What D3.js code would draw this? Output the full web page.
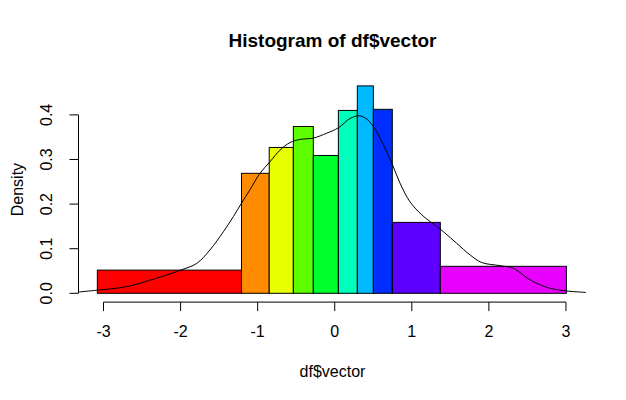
<!DOCTYPE html>
<html>
<head>
<meta charset="utf-8">
<script src="https://cdn.jsdelivr.net/npm/d3@7"></script>
<style>
  body { margin: 0; background: #fff; }
  svg { display: block; font-family: "Liberation Sans", Arial, sans-serif; }
</style>
</head>
<body>
<svg id="chart" width="626" height="400"></svg>
<script>
// histogram bins (breaks) and densities
const breaks = [-3.08, -1.21, -0.85, -0.537, -0.278, 0.047, 0.293, 0.501, 0.747, 1.37, 3.005];
const densities = [0.052, 0.269, 0.327, 0.374, 0.309, 0.410, 0.465, 0.4125, 0.159, 0.0605];
const barColors = ['#FF0000', '#FF8B00', '#E8FF00', '#5DFF00', '#00FF2E',
                   '#00FFBA', '#00B9FF', '#002EFF', '#5D00FF', '#E800FF'];

// kernel density curve
const densX = [-3.32, -3.08, -2.7, -2.31, -2.0, -1.79, -1.62, -1.445, -1.315, -1.21, -1.1, -0.97,
               -0.84, -0.71, -0.58, -0.45, -0.278, -0.104, 0.047, 0.199, 0.32, 0.42, 0.5, 0.588,
               0.74, 0.847, 0.977, 1.129, 1.237, 1.41, 1.583, 1.756, 1.907, 2.145, 2.318, 2.535,
               2.75, 2.966, 3.26];
const densY = [0.003, 0.007, 0.015, 0.034, 0.052, 0.067, 0.097, 0.138, 0.172, 0.202, 0.232, 0.269,
               0.295, 0.321, 0.338, 0.345, 0.348, 0.359, 0.371, 0.392, 0.398, 0.39, 0.374, 0.348,
               0.292, 0.247, 0.205, 0.176, 0.161, 0.138, 0.112, 0.086, 0.069, 0.062, 0.056, 0.030,
               0.0135, 0.006, 0.002];

const xTicks = [-3, -2, -1, 0, 1, 2, 3];
const yTicks = [0, 0.1, 0.2, 0.3, 0.4];

const svg = d3.select('#chart');
const plot = { left: 79, right: 586, top: 77.6, bottom: 301.6 };

const x = d3.scaleLinear().domain([-3.318, 3.26]).range([plot.left, plot.right]);
const y = d3.scaleLinear().domain([-0.0186, 0.4836]).range([plot.bottom, plot.top]);

svg.append('defs').append('clipPath').attr('id', 'clip')
  .append('rect')
  .attr('x', plot.left).attr('y', plot.top)
  .attr('width', plot.right - plot.left).attr('height', plot.bottom - plot.top);

// bars
svg.append('g').selectAll('rect')
  .data(densities)
  .join('rect')
  .attr('x', (d, i) => x(breaks[i]))
  .attr('width', (d, i) => x(breaks[i + 1]) - x(breaks[i]))
  .attr('y', d => y(d))
  .attr('height', d => y(0) - y(d))
  .attr('fill', (d, i) => barColors[i])
  .attr('stroke', '#000')
  .attr('stroke-width', 1);

// density line
const line = d3.line()
  .x(i => x(densX[i]))
  .y(i => y(densY[i]))
  .curve(d3.curveCatmullRom);

svg.append('path')
  .attr('clip-path', 'url(#clip)')
  .attr('d', line(d3.range(densX.length)))
  .attr('fill', 'none')
  .attr('stroke', '#000')
  .attr('stroke-width', 1);

// x axis (R style: line only spans the ticks)
const xAxis = svg.append('g').attr('transform', `translate(0,${plot.bottom + 0.5})`);
xAxis.append('line')
  .attr('x1', x(xTicks[0])).attr('x2', x(xTicks[xTicks.length - 1]))
  .attr('stroke', '#000');
xAxis.selectAll('.tick').data(xTicks).join('line')
  .attr('x1', d => x(d)).attr('x2', d => x(d))
  .attr('y1', 0).attr('y2', 9)
  .attr('stroke', '#000');
xAxis.selectAll('text').data(xTicks).join('text')
  .attr('x', d => x(d)).attr('y', 35)
  .attr('text-anchor', 'middle')
  .attr('font-size', 16)
  .text(d => d);

// y axis
const yAxis = svg.append('g').attr('transform', `translate(${plot.left - 0.5},0)`);
yAxis.append('line')
  .attr('y1', y(yTicks[0])).attr('y2', y(yTicks[yTicks.length - 1]))
  .attr('stroke', '#000');
yAxis.selectAll('.tick').data(yTicks).join('line')
  .attr('y1', d => y(d)).attr('y2', d => y(d))
  .attr('x1', 0).attr('x2', -9)
  .attr('stroke', '#000');
yAxis.selectAll('text').data(yTicks).join('text')
  .attr('transform', d => `translate(-32,${y(d)}) rotate(-90)`)
  .attr('text-anchor', 'middle')
  .attr('dy', '0.35em')
  .attr('font-size', 16)
  .text(d => d.toFixed(1));

// titles
svg.append('text')
  .attr('x', (plot.left + plot.right) / 2).attr('y', 47)
  .attr('text-anchor', 'middle')
  .attr('font-size', 19).attr('font-weight', 'bold')
  .text('Histogram of df$vector');

svg.append('text')
  .attr('x', (plot.left + plot.right) / 2).attr('y', 377)
  .attr('text-anchor', 'middle')
  .attr('font-size', 16)
  .text('df$vector');

svg.append('text')
  .attr('transform', `translate(17,${(plot.top + plot.bottom) / 2}) rotate(-90)`)
  .attr('text-anchor', 'middle')
  .attr('dy', '0.35em')
  .attr('font-size', 16)
  .text('Density');
</script>
</body>
</html>
